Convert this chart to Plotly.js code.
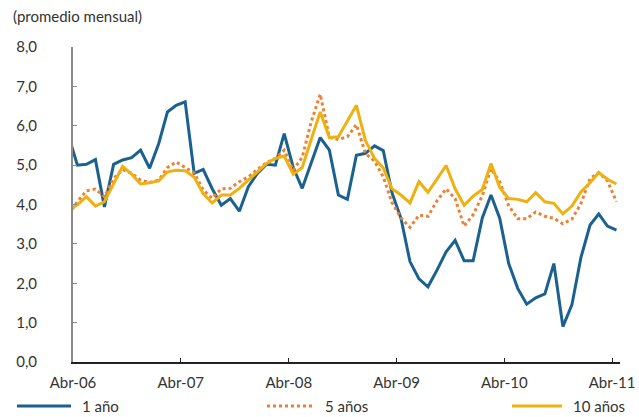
<!DOCTYPE html>
<html>
<head>
<meta charset="utf-8">
<script src="https://cdn.plot.ly/plotly-3.0.1.min.js"></script>
<style>html,body{margin:0;padding:0;background:#fff}#chart{width:639px;height:417px}</style>
</head>
<body>
<div id="chart"></div>
<script>
// Months (mid-month observations), Mar-06 .. Abr-11
const months = [
 '2006-03','2006-04','2006-05','2006-06','2006-07','2006-08','2006-09','2006-10','2006-11','2006-12',
 '2007-01','2007-02','2007-03','2007-04','2007-05','2007-06','2007-07','2007-08','2007-09','2007-10','2007-11','2007-12',
 '2008-01','2008-02','2008-03','2008-04','2008-05','2008-06','2008-07','2008-08','2008-09','2008-10','2008-11','2008-12',
 '2009-01','2009-02','2009-03','2009-04','2009-05','2009-06','2009-07','2009-08','2009-09','2009-10','2009-11','2009-12',
 '2010-01','2010-02','2010-03','2010-04','2010-05','2010-06','2010-07','2010-08','2010-09','2010-10','2010-11','2010-12',
 '2011-01','2011-02','2011-03','2011-04'
];
const seriesNames = ['1 año', '5 años', '10 años'];
const y1 = [5.75,
 5.00,5.02,5.14,3.94,5.02,5.13,5.19,5.38,4.92,5.55,6.35,6.52,
 6.61,4.79,4.89,4.40,3.98,4.15,3.83,4.45,4.79,5.02,5.00,5.80,
 4.94,4.41,5.04,5.70,5.38,4.24,4.13,5.25,5.30,5.49,5.37,4.30,
 3.65,2.55,2.11,1.91,2.34,2.80,3.09,2.57,2.57,3.66,4.24,3.65,
 2.50,1.87,1.47,1.63,1.73,2.50,0.90,1.45,2.65,3.48,3.76,3.45,
 3.35];
const y5 = [3.75,
 4.07,4.35,4.39,4.20,4.66,4.89,4.79,4.62,4.56,4.62,4.94,5.08,
 4.94,4.80,4.37,4.16,4.40,4.41,4.58,4.70,4.89,5.06,5.17,5.38,
 4.87,5.20,6.10,6.80,5.70,5.65,5.72,6.03,5.30,5.10,4.70,4.05,
 3.66,3.42,3.73,3.70,4.10,4.40,4.15,3.45,3.74,4.22,4.91,4.58,
 3.97,3.64,3.64,3.81,3.70,3.65,3.51,3.63,4.02,4.66,4.81,4.60,
 4.07];
const y10 = [3.85,
 3.99,4.20,3.96,4.07,4.53,4.97,4.77,4.52,4.55,4.60,4.83,4.87,
 4.86,4.69,4.28,4.04,4.24,4.24,4.41,4.62,4.83,5.04,5.17,5.23,
 4.77,4.94,5.65,6.35,5.70,5.72,6.12,6.52,5.63,5.17,4.93,4.40,
 4.24,4.04,4.58,4.31,4.65,4.99,4.40,3.98,4.21,4.38,5.04,4.43,
 4.15,4.13,4.07,4.30,4.07,4.03,3.76,3.96,4.32,4.55,4.81,4.64,
 4.52];
const xTickVals = ['2006-04-01','2007-04-01','2008-04-01','2009-04-01','2010-04-01','2011-04-01'];
const xTickText = ['Abr-06','Abr-07','Abr-08','Abr-09','Abr-10','Abr-11'];
const yTickVals = [0,1,2,3,4,5,6,7,8];
const yTickText = ['0,0','1,0','2,0','3,0','4,0','5,0','6,0','7,0','8,0'];

const colors = ['#1b6190', '#ef7f33', '#eeb111'];
const dashes = ['solid', 'dot', 'solid'];
const ys = [y1, y5, y10];

const traces = ys.map((y, k) => ({
  type: 'scatter', mode: 'lines', x: months, y: y, name: seriesNames[k],
  xperiod: 'M1', xperiodalignment: 'middle',
  line: {color: colors[k], width: 3, dash: dashes[k]},
  showlegend: false, hoverinfo: 'x+y'
}));

const font = 'Lato, "Open Sans", sans-serif';
// custom legend row
const legX = [17, 267, 512];
const legLen = [54, 47, 50];
const legY = -44 / 315;
const shapes = [], annotations = [];
for (let k = 0; k < 3; k++) {
  shapes.push({type: 'line', xref: 'paper', yref: 'paper',
    x0: (legX[k] - 73) / 547, x1: (legX[k] + legLen[k] - 73) / 547,
    y0: legY, y1: legY,
    line: {color: colors[k], width: 3, dash: dashes[k]}});
  annotations.push({xref: 'paper', yref: 'paper', x: (legX[k] + legLen[k] + 9 - 73) / 547, y: legY,
    xanchor: 'left', yanchor: 'middle', showarrow: false, text: seriesNames[k],
    font: {family: font, size: 15, color: '#333'}});
}

const layout = {
  width: 639, height: 417,
  margin: {l: 73, r: 19, t: 47, b: 55},
  paper_bgcolor: '#fff', plot_bgcolor: '#fff',
  font: {family: font, size: 15, color: '#333'},
  title: {text: '(promedio mensual)', xref: 'container', yref: 'container', x: 13 / 639, xanchor: 'left',
          y: 1 - 17 / 417, yanchor: 'middle', font: {family: font, size: 15, color: '#333'}},
  showlegend: false,
  xaxis: {type: 'date', range: ['2006-04-01', '2011-04-28'], tickvals: xTickVals, ticktext: xTickText,
          showgrid: false, zeroline: false, showline: true, linecolor: '#222', linewidth: 2,
          ticks: 'inside', ticklen: 4, tickcolor: '#222', tickwidth: 1, ticklabelstandoff: 6,
          tickfont: {family: font, size: 15, color: '#333'}, fixedrange: true},
  yaxis: {range: [0, 8], tickvals: yTickVals, ticktext: yTickText,
          showgrid: false, zeroline: false, showline: true, linecolor: '#8a8a8a', linewidth: 2,
          ticks: 'inside', ticklen: 4, tickcolor: '#8a8a8a', tickwidth: 1, ticklabelstandoff: 31,
          tickfont: {family: font, size: 15, color: '#333'}, fixedrange: true},
  shapes: shapes, annotations: annotations
};
Plotly.newPlot('chart', traces, layout, {displayModeBar: false, staticPlot: true});
</script>
</body>
</html>
